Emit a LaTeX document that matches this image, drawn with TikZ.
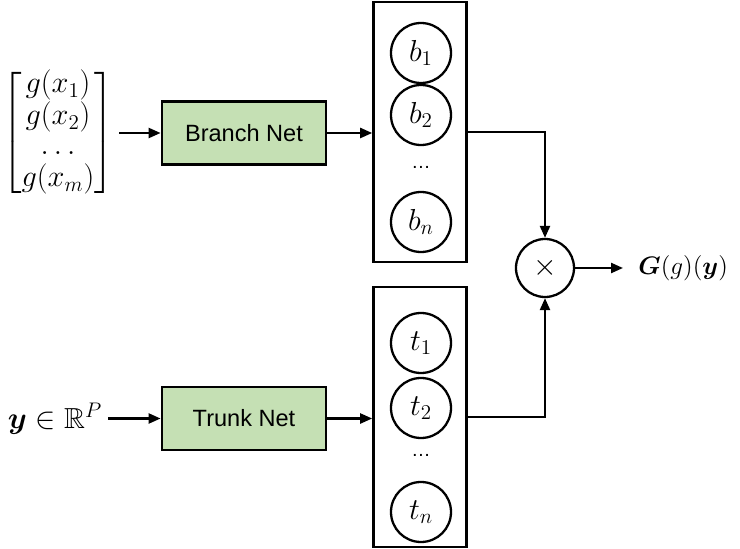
\documentclass[tikz,border=0pt]{standalone}
\usepackage{amsmath,amssymb}
\usepackage{fontspec}
\setmainfont{Liberation Sans}
\usepackage{tikz}
\usetikzlibrary{arrows.meta,positioning,calc}
\definecolor{netgreen}{RGB}{197,224,180}

\begin{document}
\begin{tikzpicture}[
  netbox/.style={draw=black, fill=netgreen, line width=1.6pt, minimum width=3.28cm, minimum height=1.26cm, font=\fontsize{13.4}{16}\selectfont},
  layer/.style={draw=black, line width=1.5pt, minimum width=1.86cm, minimum height=5.2cm},
  neuron/.style={circle, draw=black, line width=1.3pt, minimum size=1.2cm, inner sep=0pt, font=\fontsize{16.5}{20}\selectfont},
  ptr/.style={-{Triangle[length=2.4mm,width=2mm]}, line width=1.3pt},
  mathlbl/.style={font=\fontsize{16.5}{20}\selectfont},
  dotlbl/.style={font=\fontsize{11}{13}\selectfont}
]
  \useasboundingbox (0,0) rectangle (14.8,10.96);

  % inputs
  \node[mathlbl, inner sep=3pt] (inp) at (1.16,8.30)
    {$\renewcommand{\arraystretch}{0.86}\begin{bmatrix} g(x_1)\\ g(x_2)\\ \ldots\\ g(x_m) \end{bmatrix}$};
  \node[mathlbl] (yin) at (1.1,2.59) {$\boldsymbol{y}\in\mathbb{R}^P$};

  % sub-networks
  \node[netbox] (branch) at (4.88,8.30) {Branch Net};
  \node[netbox] (trunk)  at (4.88,2.59) {Trunk Net};

  % output layers
  \node[layer] (blayer) at (8.4,8.32) {};
  \node[layer] (tlayer) at (8.4,2.62) {};

  % branch outputs
  \foreach \i/\y in {1/9.90, 2/8.66, n/6.52} {
    \node[neuron] (b\i) at (8.42,\y) {$b_\i$};
  }
  \node[dotlbl] (bdots) at (8.42,7.62) {\ldots};

  % trunk outputs
  \foreach \i/\y in {1/4.10, 2/2.80, n/0.72} {
    \node[neuron] (t\i) at (8.42,\y) {$t_\i$};
  }
  \node[dotlbl] (tdots) at (8.42,1.86) {\ldots};

  % product and result
  \node[neuron, minimum size=1.16cm] (prod) at (10.9,5.6) {$\times$};
  \node[anchor=west, font=\fontsize{15}{18}\selectfont, inner sep=0.3cm] (res) at (12.46,5.6) {$\boldsymbol{G}(g)(\boldsymbol{y})$};

  % connectors
  \draw[ptr] (inp) -- (branch);
  \draw[ptr] (yin) -- (trunk);
  \draw[ptr] (branch.east) -- (branch.east -| blayer.west);
  \draw[ptr] (trunk.east) -- (trunk.east -| tlayer.west);
  \draw[ptr] (blayer) -| (prod);
  \draw[ptr] (tlayer) -| (prod);
  \draw[ptr] (prod) -- (res);
\end{tikzpicture}
\end{document}
